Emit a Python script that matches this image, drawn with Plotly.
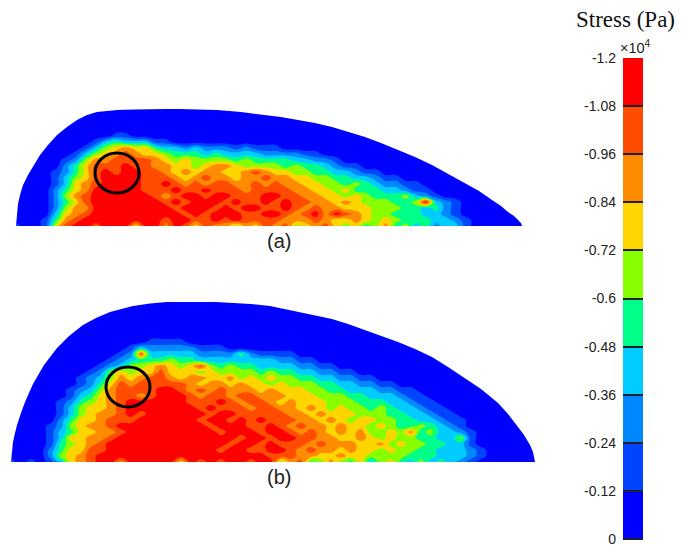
import plotly.graph_objects as go

W, H = 681, 546

band_labels = ["0", "-0.12", "-0.24", "-0.36", "-0.48", "-0.6", "-0.72", "-0.84", "-0.96", "-1.08", "-1.2"]
band_edges = [0, -0.12, -0.24, -0.36, -0.48, -0.6, -0.72, -0.84, -0.96, -1.08, -1.2]
band_colors = ["#0000ff", "#0044ff", "#0088ff", "#00ccff", "#00ff88", "#88ff00", "#ffd500", "#ff8c00", "#ff4c00", "#ff0000"]

# outline of each section: distance along the base, height above the base
outline_a_x = [0, 0.5, 1, 2, 4, 7, 12, 18, 24, 32, 41, 51, 61, 71, 81, 91, 101, 117, 134, 150, 164, 182, 201, 225, 249, 265, 282, 299, 316, 332, 349, 365, 382, 399, 416, 432, 449, 463, 476, 485, 492, 498, 502, 505, 506]
outline_a_h = [0, 7, 14, 22, 31, 41, 51, 61, 71, 81, 91, 99, 106, 111, 114, 115, 116, 116.5, 117, 117, 117, 116.5, 116, 114, 111, 109, 106, 103, 99, 94, 89, 83, 76, 69, 61, 52, 43, 35, 26, 20, 14, 10, 6, 3, 0]
outline_b_x = [0, 1, 2, 4, 6, 10, 14, 22, 33, 46, 58, 72, 85, 99, 110, 122, 139, 156, 172, 189, 205, 222, 240, 259, 273, 287, 304, 321, 337, 354, 370, 387, 404, 421, 437, 454, 470, 487, 497, 507, 513, 519, 522, 524]
outline_b_h = [0, 10, 20, 29, 37, 49, 60, 78, 97, 114, 126, 137, 144, 150, 153, 156, 158.5, 160, 160, 160, 160, 159, 158, 156, 153, 150, 147, 143, 138, 132, 126, 120, 113, 105, 95, 84, 73, 59, 48, 35, 27, 17, 10, 0]

# stress band read at each grid node (0 = lowest band ... 9 = -1.08 to -1.2), top row first
bands_a = [
    [],
    [],
    [],
    [],
    [],
    [0,0,0,0,0,0,0,0,0,0,1,1],
    [0,0,0,0,0,0,0,0,1,3,4,3,3,3,1,1],
    [0,0,0,0,0,0,0,1,3,5,6,7,6,6,4,3,3,2,3,2,2,2,1,2,1,1,1],
    [0,0,0,0,0,0,1,3,5,6,7,8,7,6,6,5,4,4,4,3,4,3,3,3,3,2,2,2,2,1,1],
    [0,0,0,0,0,1,2,5,7,7,8,8,8,8,7,6,5,6,5,5,5,5,4,5,4,4,4,4,3,3,2,2,1],
    [0,0,0,0,0,2,4,6,8,8,8,9,8,8,7,7,6,6,5,6,7,7,6,5,5,5,5,4,5,4,4,3,2,1,1],
    [0,0,0,0,1,2,4,6,8,9,8,9,9,8,8,7,6,7,6,7,7,6,6,7,8,7,6,6,5,5,4,4,3,3,2,1,1],
    [0,0,0,0,1,3,5,6,8,9,9,9,9,8,8,8,7,6,7,8,7,7,6,7,7,8,7,7,6,6,5,5,4,4,3,3,2,1,1],
    [0,0,0,0,1,3,6,7,8,9,9,9,9,8,8,9,8,7,8,7,8,8,7,7,8,7,8,7,7,6,6,5,5,4,5,4,3,2,2,1,1],
    [0,0,0,0,2,4,6,7,9,9,9,9,9,8,8,8,9,8,8,9,8,8,8,7,8,8,8,8,7,7,6,6,5,6,4,4,4,3,3,2,1,1],
    [0,0,0,0,2,5,7,8,9,9,9,9,9,9,8,7,8,9,9,8,9,9,8,8,8,9,9,8,8,7,7,6,6,5,6,5,4,4,4,5,3,2,1],
    [0,0,0,0,2,4,6,8,9,9,9,9,9,9,9,8,9,8,9,9,9,8,9,8,8,9,8,9,8,8,7,7,6,7,6,5,5,5,4,4,5,9,3,2,1],
    [0,0,0,0,2,5,7,7,9,9,9,9,9,9,9,9,8,9,9,9,8,9,8,9,9,8,8,9,8,7,8,7,7,6,6,6,5,5,5,4,4,3,4,2,1],
    [0,0,0,0,3,6,7,8,9,9,9,9,9,9,9,9,9,8,9,8,9,9,9,8,8,9,9,8,7,8,9,7,9,8,7,6,5,5,4,4,4,3,3,2,1],
    [0,0,0,1,4,7,8,9,9,9,9,9,9,9,9,8,9,9,8,8,9,8,9,8,8,8,8,7,7,7,8,7,6,6,7,6,5,6,5,4,4,4,3,3,2,1],
    [1,0,0,1,6,8,9,9,8,9,9,9,6,9,9,7,9,8,6,8,7,7,5,7,6,8,7,8,5,6,7,8,6,5,6,4,5,7,4,5,3,4,2,3,3,1],
]

bands_b = [
    [],
    [],
    [],
    [],
    [],
    [],
    [],
    [],
    [0,0,0,0,0,0,0,0,0,0,0,0,0,0,1,1,1,1],
    [0,0,0,0,0,0,0,0,0,0,0,0,1,3,2,2,2,2,2,1,1,1],
    [0,0,0,0,0,0,0,0,0,0,0,1,2,8,3,3,3,3,3,2,2,2,2,4,2,1,1,1,1],
    [0,0,0,0,0,0,0,0,0,0,1,2,3,4,4,4,5,4,4,3,3,3,3,3,3,3,3,2,2,1,1],
    [0,0,0,0,0,0,0,0,0,1,2,3,5,5,6,7,6,5,6,8,5,4,5,4,4,3,3,3,3,2,2,1,1],
    [0,0,0,0,0,0,0,0,1,2,5,6,5,6,6,8,6,6,6,5,6,5,5,5,5,4,5,4,4,3,3,2,2,1,1],
    [0,0,0,0,0,0,0,1,2,3,5,7,6,7,8,8,7,6,7,7,6,6,7,5,6,5,6,5,5,4,4,3,3,2,2,1,1],
    [0,0,0,0,0,0,0,1,2,4,6,8,7,8,8,8,8,8,7,6,7,7,6,7,6,6,5,6,5,5,5,4,4,3,3,2,2,1,1],
    [0,0,0,0,0,0,1,2,3,5,7,8,8,8,8,9,9,8,7,8,7,8,7,7,7,6,7,6,6,6,5,5,4,4,3,3,3,2,2,1,1],
    [0,0,0,0,0,0,1,3,4,6,7,8,8,7,8,9,9,9,8,7,8,8,7,8,8,7,7,7,6,6,6,5,5,5,4,4,3,3,3,2,1,1],
    [0,0,0,0,0,1,2,4,5,6,7,8,9,9,9,9,9,9,8,8,8,9,8,7,8,8,7,6,7,6,6,6,5,5,5,4,4,4,3,3,2,1,1],
    [0,0,0,0,0,1,3,5,6,6,7,8,9,9,9,9,9,9,9,8,9,8,8,8,7,8,8,7,7,6,7,6,5,6,5,5,4,5,4,3,3,2,1,1],
    [0,0,0,0,0,1,3,5,6,7,7,8,9,8,9,9,9,9,9,9,8,9,9,8,8,8,8,8,7,7,6,7,6,6,6,5,5,5,4,4,3,3,2,1,1],
    [0,0,0,0,0,2,4,6,6,7,8,8,8,9,9,9,9,9,9,8,9,9,8,9,8,9,8,8,8,7,7,6,7,6,5,6,6,5,5,4,4,3,3,2,1,1],
    [0,0,0,0,1,2,5,6,7,7,8,9,9,9,9,9,9,9,9,9,8,9,9,9,8,8,9,8,7,8,7,7,6,7,6,6,5,6,5,4,4,5,4,3,2,1],
    [0,0,0,0,1,3,4,6,6,7,7,8,9,9,9,9,9,9,9,9,9,8,9,9,9,8,9,9,8,7,8,7,6,7,6,7,5,5,6,5,7,4,5,3,3,2,1],
    [0,0,0,0,1,3,6,6,7,7,8,9,9,9,9,9,9,9,9,9,9,9,9,8,9,9,8,9,9,8,8,7,7,6,6,7,6,5,6,5,5,4,4,3,3,5,1],
    [0,0,0,0,1,4,5,6,7,8,9,9,9,9,9,9,9,9,9,9,9,9,8,9,9,8,9,8,8,8,7,8,7,7,7,6,6,7,5,6,5,5,4,4,3,3,1],
    [0,0,0,0,2,4,6,6,8,8,9,9,9,9,9,9,9,9,9,9,9,8,9,9,8,8,9,9,8,7,8,7,7,6,7,6,6,5,6,5,5,4,4,3,3,3,2,1],
    [0,0,0,0,2,5,6,7,8,9,9,9,9,9,9,9,9,9,9,9,9,9,9,9,9,9,8,8,8,7,7,6,6,7,6,6,5,5,5,5,4,4,4,3,3,3,2,1],
    [1,0,1,0,1,3,6,7,8,9,9,7,9,9,9,9,9,6,9,8,9,8,9,9,8,9,9,5,7,8,4,5,7,5,4,6,3,5,6,4,3,5,3,4,3,2,1],
]

circle_a = dict(cx=101, cy=53, rx=22, ry=20)
circle_b = dict(cx=117, cy=75, rx=22, ry=20)

GRID_DX, GRID_DY = 10, 6
PAD = 8


def dom_x(a, b):
    return [a / W, b / W]


def dom_y(top, bottom):
    return [1 - bottom / H, 1 - top / H]


def stress_grid(rows, n_cols):
    full = [r + [0] * (n_cols - len(r)) for r in rows]
    return [[-0.12 * (b + 0.5) for b in r] for r in reversed(full)]


def discrete_scale():
    out = []
    cols = list(reversed(band_colors))
    n = len(cols)
    for i, c in enumerate(cols):
        out.append([i / n, c])
        out.append([(i + 1) / n, c])
    return out


scale = discrete_scale()
fig = go.Figure()


def add_section(rows, n_cols, ox, oh, xa, ya):
    z = stress_grid(rows, n_cols)
    fig.add_trace(go.Contour(
        x=[i * GRID_DX for i in range(n_cols)],
        y=[j * GRID_DY for j in range(len(z))],
        z=z, zmin=-1.2, zmax=0, colorscale=scale, showscale=False,
        contours=dict(coloring="fill", start=-1.2, end=0, size=0.12, showlines=False),
        line=dict(width=0, smoothing=1.3), xaxis=xa, yaxis=ya, hoverinfo="skip",
    ))
    top = max(oh) + 40
    wide = max(ox) + 40
    fig.add_trace(go.Scatter(
        x=ox + [wide, wide, -40, -40],
        y=oh + [0, top, top, 0],
        mode="lines", fill="toself", fillcolor="white",
        line=dict(width=0, color="white"),
        xaxis=xa, yaxis=ya, hoverinfo="skip", showlegend=False,
    ))


add_section(bands_a, 53, outline_a_x, outline_a_h, "x", "y")
add_section(bands_b, 55, outline_b_x, outline_b_h, "x2", "y2")

fig.add_trace(go.Heatmap(
    x=[0, 1],
    y=band_edges,
    z=[[(band_edges[i] + band_edges[i + 1]) / 2] for i in range(len(band_edges) - 1)],
    zmin=-1.2, zmax=0, colorscale=scale, showscale=False,
    xaxis="x3", yaxis="y3", hoverinfo="skip",
))

hidden = dict(visible=False, fixedrange=True, automargin=False)
ann_font = dict(family="Liberation Sans", color="#222222")
fig.update_layout(
    template="none",
    width=W, height=H, margin=dict(l=0, r=0, t=0, b=0),
    paper_bgcolor="white", plot_bgcolor="white", showlegend=False,
    xaxis=dict(domain=dom_x(16, 522 + PAD), range=[0, 506 + PAD], **hidden),
    yaxis=dict(domain=dom_y(108 - PAD, 226), range=[0, 118 + PAD], **hidden),
    xaxis2=dict(domain=dom_x(11, 535 + PAD), range=[0, 524 + PAD], **hidden),
    yaxis2=dict(domain=dom_y(301 - PAD, 462), range=[0, 161 + PAD], **hidden),
    xaxis3=dict(domain=dom_x(623, 643), range=[0, 1], **hidden),
    yaxis3=dict(domain=dom_y(58, 540), range=[0.0025, -1.2], side="left", anchor="x3", automargin=False,
                tickmode="array", tickvals=band_edges, ticktext=band_labels, ticks="inside", ticklen=20,
                tickwidth=1.5, tickcolor="#202030", showgrid=False, zeroline=False,
                showline=False, ticklabelstandoff=6, ticklabeloverflow="allow",
                tickfont=dict(family="Liberation Sans", size=14, color="#222222")),
    font=dict(family="Liberation Sans", color="#222222"),
    annotations=[
        dict(text="Stress (Pa)", x=625.5 / W, y=1 - 20 / H, xref="paper", yref="paper", showarrow=False,
             xanchor="center", yanchor="middle",
             font=dict(family="Liberation Serif", size=23, color="#111111")),
        dict(text="×10<sup>4</sup>", x=635 / W, y=1 - 47 / H, xref="paper", yref="paper", showarrow=False,
             xanchor="center", yanchor="middle", font=dict(size=14.5, **ann_font)),
        dict(text="(a)", x=279 / W, y=1 - 241 / H, xref="paper", yref="paper", showarrow=False,
             xanchor="center", yanchor="middle", font=dict(size=20, **ann_font)),
        dict(text="(b)", x=279 / W, y=1 - 477 / H, xref="paper", yref="paper", showarrow=False,
             xanchor="center", yanchor="middle", font=dict(size=20, **ann_font)),
    ],
    shapes=[
        dict(type="circle", xref="x", yref="y", x0=circle_a["cx"] - circle_a["rx"], x1=circle_a["cx"] + circle_a["rx"],
             y0=circle_a["cy"] - circle_a["ry"], y1=circle_a["cy"] + circle_a["ry"], line=dict(color="black", width=3)),
        dict(type="circle", xref="x2", yref="y2", x0=circle_b["cx"] - circle_b["rx"], x1=circle_b["cx"] + circle_b["rx"],
             y0=circle_b["cy"] - circle_b["ry"], y1=circle_b["cy"] + circle_b["ry"], line=dict(color="black", width=3)),
    ],
)

fig.write_html("out.html", post_script="document.body.style.margin='0';document.body.style.overflow='hidden';",
               config=dict(displayModeBar=False))
